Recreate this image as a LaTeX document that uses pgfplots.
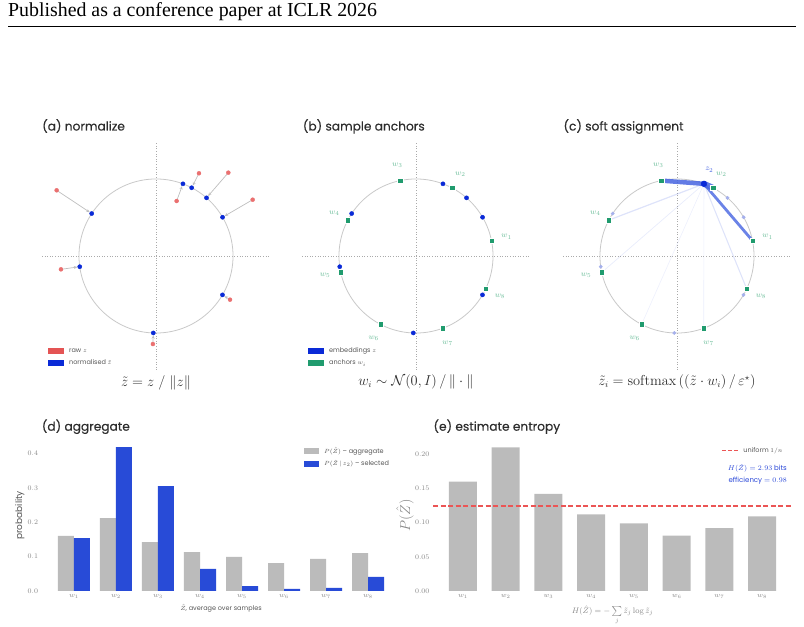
\documentclass[border=0pt]{standalone}
\usepackage[no-math]{fontspec}
\usepackage{pgfplots}
\pgfplotsset{compat=1.18}
\usetikzlibrary{arrows.meta}
\newfontfamily\pop{Poppins}
\newfontfamily\popb{Poppins}[FakeBold=0.35]
\newfontfamily\hdr{Liberation Serif}
\definecolor{redpt}{RGB}{234,112,112}
\definecolor{redlg}{RGB}{228,84,84}
\definecolor{bluept}{RGB}{10,42,215}
\definecolor{greenpt}{RGB}{32,155,110}
\definecolor{greenlbl}{RGB}{110,190,155}
\definecolor{barblue}{RGB}{40,75,215}
\definecolor{bargray}{RGB}{187,187,187}
\definecolor{txtgray}{RGB}{85,85,85}
\definecolor{tickgray}{RGB}{135,135,135}
\definecolor{titlegray}{RGB}{45,45,45}
\definecolor{linkblue}{RGB}{70,100,225}
\definecolor{fadeblue}{RGB}{165,176,236}
\definecolor{axgray}{RGB}{170,170,170}
\definecolor{circgray}{RGB}{200,200,200}
\definecolor{arrgray}{RGB}{190,190,190}
\definecolor{redln}{RGB}{235,85,85}
\definecolor{infoblue}{RGB}{40,70,215}
\tikzset{wlbl/.style={text=greenlbl, font=\fontsize{8}{9}\selectfont, inner sep=0pt},
  frm/.style={text=titlegray, font=\fontsize{13.5}{15}\selectfont, inner sep=0pt},
  ttl/.style={anchor=base west, inner sep=0pt, text=titlegray, font=\popb\fontsize{12.2}{13}\selectfont}}
\pgfplotsset{
  circax/.style={scale only axis, width=228pt, height=228pt,
    xmin=-1.48, xmax=1.48, ymin=-1.48, ymax=1.48, hide axis, clip=false, anchor=south west,
    legend cell align=left,
    legend style={draw=none, fill=none, inner sep=0pt, font=\pop\fontsize{6.5}{7}\selectfont, text=txtgray,
      row sep=6pt, column sep=5pt, nodes={inner sep=0pt, text height=4.8pt, text depth=1.2pt},
      at={(axis description cs:0.026,0.097)}, anchor=north west},
    legend image code/.code={\fill[##1] (0pt,-3pt) rectangle (16pt,3pt);}},
  refln/.style={forget plot, dotted, color=axgray, line width=0.6pt},
  arr/.style={forget plot, color=arrgray, line width=0.7pt, -{Stealth[length=3.5pt,width=3pt]}, shorten >=2.4pt},
  anch/.style={forget plot, only marks, mark=square*, mark size=2.8pt, mark options={fill=greenpt, draw=white, line width=0.3pt}},
  lnk/.style={forget plot, color=linkblue, line cap=butt},
  barax/.style={scale only axis, anchor=south west, xmin=0.3, xmax=8.7, ymin=0,
    axis line style={draw=none}, major tick length=0pt, scaled y ticks=false,
    xtick={1,...,8}, xticklabels={$w_1$,$w_2$,$w_3$,$w_4$,$w_5$,$w_6$,$w_7$,$w_8$},
    tick label style={font=\fontsize{7}{8}\selectfont, text=tickgray},
    legend cell align=left,
    legend style={draw=none, fill=none, inner sep=0pt, font=\pop\fontsize{6.5}{7}\selectfont, text=txtgray,
      row sep=6.5pt, column sep=5pt, nodes={inner sep=0pt, text height=4.8pt, text depth=1.2pt}}},
}
\begin{document}
\begin{tikzpicture}[x=1pt,y=1pt]
\useasboundingbox (0,0) rectangle (804,627);
% header
\node[anchor=base west, inner sep=0pt] at (8,610) {\hdr\fontsize{19.85}{22}\selectfont Published as a conference paper at ICLR 2026};
\draw[line width=0.9pt] (8,600.5) -- (796,600.5);
% titles
\node[ttl] at (42,496.5) {(a) normalize};
\node[ttl] at (302.7,496.5) {(b) sample anchors};
\node[ttl] at (563.3,496.5) {(c) soft assignment};
\node[ttl] at (41.7,196.3) {(d) aggregate};
\node[ttl] at (433.3,196.3) {(e) estimate entropy};
% formulas
\node[frm] at (156,244) {$\tilde z = z\;/\;\|z\|$};
\node[frm] at (416,245) {$w_i \sim \mathcal{N}(0,I)\,/\,\|\cdot\|$};
\node[frm] at (677,245) {$\tilde z_i = \mathrm{softmax}\left((\tilde z\cdot w_i)\,/\,\varepsilon^{\star}\right)$};

% ---------- (a) ----------
\begin{axis}[circax, at={(42pt,257pt)}]
\addplot[refln] coordinates {(-1.48,0) (1.48,0)};
\addplot[refln] coordinates {(0,-1.48) (0,1.48)};
\draw[circgray, line width=0.8pt] (axis cs:0,0) circle[radius=1];
\addplot[arr] coordinates {(-1.29,0.853) (-0.835,0.551)};
\addplot[arr] coordinates {(-1.234,-0.173) (-0.990,-0.139)};
\addplot[arr] coordinates {(-0.04,-1.143) (-0.035,-0.999)};
\addplot[arr] coordinates {(0.961,-0.567) (0.863,-0.505)};
\addplot[arr] coordinates {(1.255,0.731) (0.864,0.503)};
\addplot[arr] coordinates {(0.939,1.082) (0.656,0.755)};
\addplot[arr] coordinates {(0.558,1.074) (0.463,0.886)};
\addplot[arr] coordinates {(0.268,0.714) (0.350,0.937)};
\addplot[forget plot, only marks, mark=*, mark size=2pt, color=redpt] coordinates {
 (-1.29,0.853) (-1.234,-0.173) (-0.04,-1.143) (0.961,-0.567) (1.255,0.731) (0.939,1.082) (0.558,1.074) (0.268,0.714)};
\addplot[forget plot, only marks, mark=*, mark size=2.1pt, color=bluept] coordinates {
 (-0.835,0.551) (-0.990,-0.139) (-0.035,-0.999) (0.863,-0.505) (0.864,0.503) (0.656,0.755) (0.463,0.886) (0.350,0.937)};
\addlegendimage{fill=redlg, draw=none}
\addlegendentry{raw $z$}
\addlegendimage{fill=bluept, draw=none}
\addlegendentry{normalised $\tilde z$}
\end{axis}

% ---------- (b) ----------
\begin{axis}[circax, at={(302pt,257pt)}]
\addplot[refln] coordinates {(-1.48,0) (1.48,0)};
\addplot[refln] coordinates {(0,-1.48) (0,1.48)};
\draw[circgray, line width=0.8pt] (axis cs:0,0) circle[radius=1];
\addplot[forget plot, only marks, mark=*, mark size=2.1pt, color=bluept] coordinates {
 (-0.835,0.551) (-0.990,-0.139) (-0.035,-0.999) (0.863,-0.505) (0.864,0.503) (0.656,0.755) (0.463,0.886) (0.350,0.937)};
\addplot[anch] coordinates {(0.980,0.199) (0.466,0.885) (-0.204,0.979) (-0.885,0.466) (-0.977,-0.213) (-0.460,-0.888) (0.347,-0.938) (0.905,-0.426)};
\node[wlbl] at (axis cs:1.176,0.25) {$w_1$};
\node[wlbl] at (axis cs:0.576,1.06) {$w_2$};
\node[wlbl] at (axis cs:-0.243,1.18) {$w_3$};
\node[wlbl] at (axis cs:-1.06,0.55) {$w_4$};
\node[wlbl] at (axis cs:-1.18,-0.25) {$w_5$};
\node[wlbl] at (axis cs:-0.55,-1.07) {$w_6$};
\node[wlbl] at (axis cs:0.41,-1.13) {$w_7$};
\node[wlbl] at (axis cs:1.09,-0.52) {$w_8$};
\addlegendimage{fill=bluept, draw=none}
\addlegendentry{embeddings $z$}
\addlegendimage{fill=greenpt, draw=none}
\addlegendentry{anchors $w_i$}
\end{axis}

% ---------- (c) ----------
\begin{axis}[circax, at={(563pt,257pt)}]
\addplot[refln] coordinates {(-1.48,0) (1.48,0)};
\addplot[refln] coordinates {(0,-1.48) (0,1.48)};
\draw[circgray, line width=0.8pt] (axis cs:0,0) circle[radius=1];
\addplot[forget plot, only marks, mark=*, mark size=1.7pt, color=fadeblue] coordinates {
 (-0.835,0.551) (-0.990,-0.139) (-0.035,-0.999) (0.863,-0.505) (0.864,0.503) (0.656,0.755) (0.463,0.886)};
% links z2 -> w_j, width ~ probability
\addplot[lnk, line width=0.58pt, opacity=0.10] coordinates {(0.350,0.937) (-0.460,-0.888)};
\addplot[lnk, line width=0.62pt, opacity=0.11] coordinates {(0.350,0.937) (0.347,-0.938)};
\addplot[lnk, line width=0.70pt, opacity=0.12] coordinates {(0.350,0.937) (-0.977,-0.213)};
\addplot[lnk, line width=1.05pt, opacity=0.18] coordinates {(0.350,0.937) (0.905,-0.426)};
\addplot[lnk, line width=1.2pt, opacity=0.18] coordinates {(0.350,0.937) (-0.885,0.466)};
\addplot[lnk, line width=2.8pt, opacity=0.8] coordinates {(0.350,0.937) (0.980,0.199)};
\addplot[lnk, line width=4.5pt, opacity=0.85] coordinates {(0.350,0.937) (-0.204,0.979)};
\addplot[lnk, line width=6pt, opacity=0.85] coordinates {(0.350,0.937) (0.466,0.885)};
\addplot[anch] coordinates {(0.980,0.199) (0.466,0.885) (-0.204,0.979) (-0.885,0.466) (-0.977,-0.213) (-0.460,-0.888) (0.347,-0.938) (0.905,-0.426)};
\addplot[forget plot, only marks, mark=*, mark size=2.9pt, color=bluept] coordinates {(0.350,0.937)};
\node[text=linkblue, font=\fontsize{8.5}{9}\selectfont, inner sep=0pt] at (axis cs:0.42,1.12) {$z_2$};
\node[wlbl] at (axis cs:1.176,0.25) {$w_1$};
\node[wlbl] at (axis cs:0.576,1.06) {$w_2$};
\node[wlbl] at (axis cs:-0.243,1.18) {$w_3$};
\node[wlbl] at (axis cs:-1.06,0.55) {$w_4$};
\node[wlbl] at (axis cs:-1.18,-0.25) {$w_5$};
\node[wlbl] at (axis cs:-0.55,-1.07) {$w_6$};
\node[wlbl] at (axis cs:0.41,-1.13) {$w_7$};
\node[wlbl] at (axis cs:1.09,-0.52) {$w_8$};
\end{axis}

% ---------- (d) ----------
\begin{axis}[barax, at={(44.6pt,36pt)}, width=352.8pt, height=151.4pt, ymax=0.44,
  ytick={0,0.1,0.2,0.3,0.4},
  yticklabel style={/pgf/number format/fixed,/pgf/number format/fixed zerofill,/pgf/number format/precision=1, xshift=-3pt},
  xlabel={$\hat Z$, average over samples},
  xlabel style={font=\pop\fontsize{6.5}{7}\selectfont, text=txtgray, at={(axis description cs:0.5,-0.1255)}, anchor=base},
  ylabel={probability},
  ylabel style={font=\pop\fontsize{9}{10}\selectfont, text=txtgray, at={(axis description cs:-0.07,0.5)}, anchor=center},
  legend style={at={(axis description cs:0.735,0.944)}, anchor=north west},
  legend image code/.code={\fill[#1] (0pt,-3pt) rectangle (15pt,3pt);}]
\addplot[forget plot, ybar, bar width=16pt, bar shift=-8pt, fill=bargray, draw=none] coordinates {
 (1,0.160) (2,0.212) (3,0.142) (4,0.113) (5,0.099) (6,0.081) (7,0.093) (8,0.110)};
\addplot[forget plot, ybar, bar width=16pt, bar shift=8pt, fill=barblue, draw=none] coordinates {
 (1,0.154) (2,0.418) (3,0.305) (4,0.064) (5,0.0145) (6,0.006) (7,0.009) (8,0.041)};
\addlegendimage{fill=bargray, draw=none}
\addlegendentry{$P(\hat Z)$ \textendash\ aggregate}
\addlegendimage{fill=barblue, draw=none}
\addlegendentry{$P(\hat Z\,|\,z_2)$ \textendash\ selected}
\end{axis}

% ---------- (e) ----------
\begin{axis}[barax, at={(433pt,36pt)}, width=359pt, height=150.8pt, ymax=0.2205,
  ytick={0,0.05,0.1,0.15,0.2},
  yticklabel style={/pgf/number format/fixed,/pgf/number format/fixed zerofill,/pgf/number format/precision=2},
  xlabel={$H(\hat Z) = -\sum\limits_j \tilde z_j \log \tilde z_j$},
  xlabel style={font=\fontsize{8.5}{10}\selectfont, text=tickgray, at={(axis description cs:0.5,-0.075)}, anchor=north},
  ylabel={$P(\hat Z)$},
  ylabel style={font=\fontsize{13.5}{15}\selectfont, text=tickgray, at={(axis description cs:-0.078,0.5)}, anchor=center},
  legend style={at={(axis description cs:0.802,0.930)}, anchor=west},
  legend image code/.code={\draw[#1] (0pt,0pt) -- (16pt,0pt);}]
\addplot[forget plot, ybar, bar width=28pt, fill=bargray, draw=none] coordinates {
 (1,0.160) (2,0.210) (3,0.142) (4,0.112) (5,0.099) (6,0.081) (7,0.092) (8,0.109)};
\addplot[forget plot, sharp plot, mark=none, color=redln, line width=2pt, dash pattern=on 5pt off 2.5pt] coordinates {(0.3,0.125) (1,0.125) (2,0.125) (3,0.125) (4,0.125) (5,0.125) (6,0.125) (7,0.125) (8,0.125) (8.7,0.125)};
\addlegendimage{color=redln, line width=1.3pt, dash pattern=on 4pt off 2pt}
\addlegendentry{uniform $1/n$}
\end{axis}
\node[anchor=base east, inner sep=0pt, text=infoblue, font=\pop\fontsize{7}{8}\selectfont] at (787,156) {$H(\hat Z) = 2.93$ bits};
\node[anchor=base east, inner sep=0pt, text=infoblue, font=\pop\fontsize{7}{8}\selectfont] at (787,144.5) {efficiency $= 0.98$};
\end{tikzpicture}
\end{document}
